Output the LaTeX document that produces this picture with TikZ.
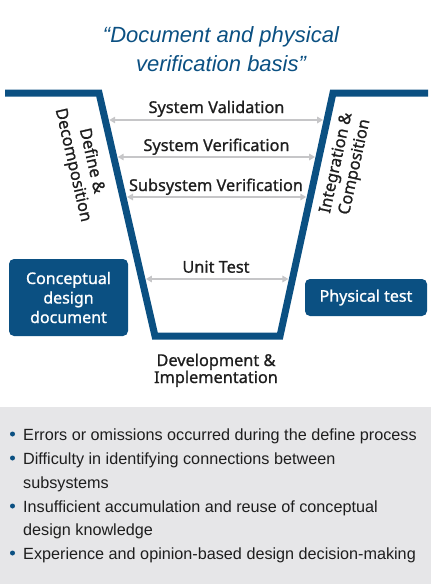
\documentclass[tikz,border=0pt]{standalone}
\usepackage{fontspec}
\setmainfont{Noto Sans}
\newfontfamily\lblfont{Noto Sans}[FakeBold=1.0]
\newfontfamily\robfont{Liberation Sans}
\usetikzlibrary{arrows.meta}
\definecolor{vblue}{HTML}{0B5082}
\definecolor{panelgray}{HTML}{E6E6E8}
\definecolor{arrowgray}{HTML}{C6C6C8}
\definecolor{labeltxt}{HTML}{1E1E1E}
\begin{document}
\begin{tikzpicture}[x=1pt,y=-1pt,
  vline/.style={draw=vblue,line width=7pt,line join=miter},
  gaparrow/.style={draw=arrowgray,line width=2pt,{Triangle[length=6pt,width=6.5pt]}-{Triangle[length=6pt,width=6.5pt]}},
  lbl/.style={font=\lblfont\fontsize{16.3}{19}\selectfont,text=labeltxt,inner sep=0pt},
  bluebox/.style={fill=vblue,rounded corners=5pt,text=white,font=\lblfont\fontsize{16}{19.5}\selectfont,align=center,inner sep=0pt},
  bullettxt/.style={font=\robfont\fontsize{16.2}{24}\selectfont,text=labeltxt,anchor=base west,inner sep=0pt},
  bulletdot/.style={circle,fill=vblue,inner sep=0pt,minimum size=5pt},
  ttl/.style={font=\robfont\itshape\fontsize{22}{29}\selectfont,text=vblue,anchor=base,inner sep=0pt}]
\useasboundingbox (0,0) rectangle (431,584);
\fill[panelgray] (0,407) rectangle (431,584);

% title
\node[ttl] (t1) at (221,42) {“Document and physical};
\node[ttl] (t2) at (221,71) {verification basis”};

% V shape
\coordinate (vl0) at (5,93);
\coordinate (vtl) at (99,93);
\coordinate (vbl) at (155,336);
\coordinate (vbr) at (280,336);
\coordinate (vtr) at (333,93);
\coordinate (vr0) at (428,93);
\draw[vline] (vl0) -- (vtl) -- (vbl) -- (vbr) -- (vtr) -- (vr0);

% arrows
\coordinate (a1l) at (109.2,120); \coordinate (a1r) at (323.1,120);
\coordinate (a2l) at (117.7,157); \coordinate (a2r) at (315.1,157);
\coordinate (a3l) at (127,197);   \coordinate (a3r) at (306.3,197);
\coordinate (a4l) at (145.9,279); \coordinate (a4r) at (288.4,279);
\draw[gaparrow] (a1l) -- (a1r);
\draw[gaparrow] (a2l) -- (a2r);
\draw[gaparrow] (a3l) -- (a3r);
\draw[gaparrow] (a4l) -- (a4r);

\node[lbl,anchor=base] (l1) at (216.5,113) {System Validation};
\node[lbl,anchor=base] (l2) at (216.5,151) {System Verification};
\node[lbl,anchor=base] (l3) at (216,191) {Subsystem Verification};
\node[lbl,anchor=base] (l4) at (216,272.7) {Unit Test};

\node[lbl,anchor=base] (dev1) at (216,366) {Development \&};
\node[lbl,anchor=base] (dev2) at (216,383) {Implementation};

\node[lbl,align=center,rotate=-77] (def) at (82,163) {Define \&\\Decomposition};
\node[lbl,align=center,rotate=77.7] (int) at (346,165) {Integration \&\\Composition};

% boxes
\node[bluebox,minimum width=119pt,minimum height=77pt] (cdd) at (68.5,297.5) {Conceptual\\design\\document};
\node[bluebox,minimum width=122pt,minimum height=37pt] (pt) at (366,297.5) {Physical test};

% bullets
\node[bulletdot] (d1) at (12.5,434) {};
\node[bulletdot] (d2) at (12.5,458) {};
\node[bulletdot] (d3) at (12.5,506) {};
\node[bulletdot] (d4) at (12.5,553) {};
\node[bullettxt] (b1) at (23,440) {Errors or omissions occurred during the define process};
\node[bullettxt] (b2a) at (23,464) {Difficulty in identifying connections between};
\node[bullettxt] (b2b) at (23,488) {subsystems};
\node[bullettxt] (b3a) at (23,512) {Insufficient accumulation and reuse of conceptual};
\node[bullettxt] (b3b) at (23,535) {design knowledge};
\node[bullettxt] (b4) at (23,559) {Experience and opinion-based design decision-making};
\end{tikzpicture}
\end{document}
